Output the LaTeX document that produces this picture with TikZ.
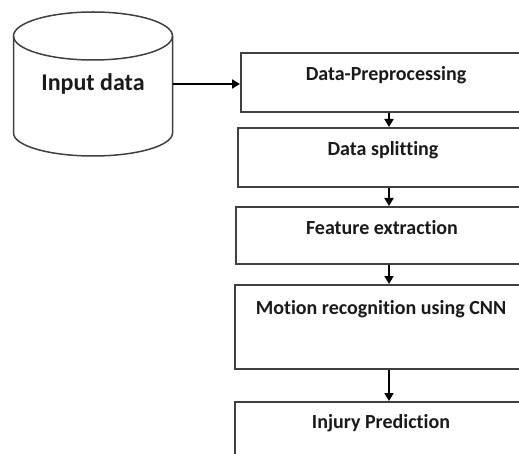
\documentclass[tikz,border=0pt]{standalone}
\usepackage{fontspec}
\setmainfont{Carlito}[Ligatures=NoCommon]
\usetikzlibrary{arrows.meta}
\definecolor{boxline}{HTML}{404040}
\definecolor{txt}{HTML}{1A1A1A}
\tikzset{
  stepbox/.style={draw=boxline, line width=1.6pt, rectangle, minimum width=310pt, anchor=north west, inner sep=0pt},
  steptext/.style={font=\fontsize{20}{23}\selectfont\bfseries, text=txt, inner sep=0pt},
  arr/.style={draw=black, line width=1.8pt, -{Triangle[length=8pt,width=9pt]}},
}
\begin{document}
\begin{tikzpicture}[x=1pt,y=-1pt]
\useasboundingbox (0,0) rectangle (519,454);
\clip (0,0) rectangle (519,454);
\fill[white] (0,0) rectangle (519,454);
% cylinder
\draw[boxline, line width=1.5pt] (93,36) ellipse [x radius=79.5, y radius=24];
\draw[boxline, line width=1.5pt] (13.5,36) -- (13.5,133) arc[start angle=180, end angle=0, x radius=79.5, y radius=23] -- (172.5,36);
\node[minimum width=159pt, minimum height=40pt, inner sep=0pt, font=\fontsize{24}{27}\selectfont\bfseries, text=txt] (cyl) at (93,84) {Input data};
% boxes
\node[stepbox, minimum height=59pt] (b1) at (240,52) {};
\node[stepbox, minimum height=59pt] (b2) at (237,127) {};
\node[stepbox, minimum height=57pt] (b3) at (235,206) {};
\node[stepbox, minimum height=84pt] (b4) at (234,284) {};
\node[stepbox, minimum height=80pt] (b5) at (234,401) {};
% texts
\node[steptext] (t1) at (386,75) {Data-Preprocessing};
\node[steptext] (t2) at (383,150) {Data splitting};
\node[steptext] (t3) at (382,228) {Feature extraction};
\node[steptext] (t4) at (381,309) {Motion recognition using CNN};
\node[steptext] (t5) at (381,423) {Injury Prediction};
% arrows
\coordinate (ax) at (389,0);
\draw[arr] (cyl.east) -- (cyl.east -| b1.west);
\draw[arr] (b1.south -| ax) -- (b2.north -| ax);
\draw[arr] (b2.south -| ax) -- (b3.north -| ax);
\draw[arr] (b3.south -| ax) -- (b4.north -| ax);
\draw[arr] (b4.south -| ax) -- (b5.north -| ax);
\end{tikzpicture}
\end{document}
